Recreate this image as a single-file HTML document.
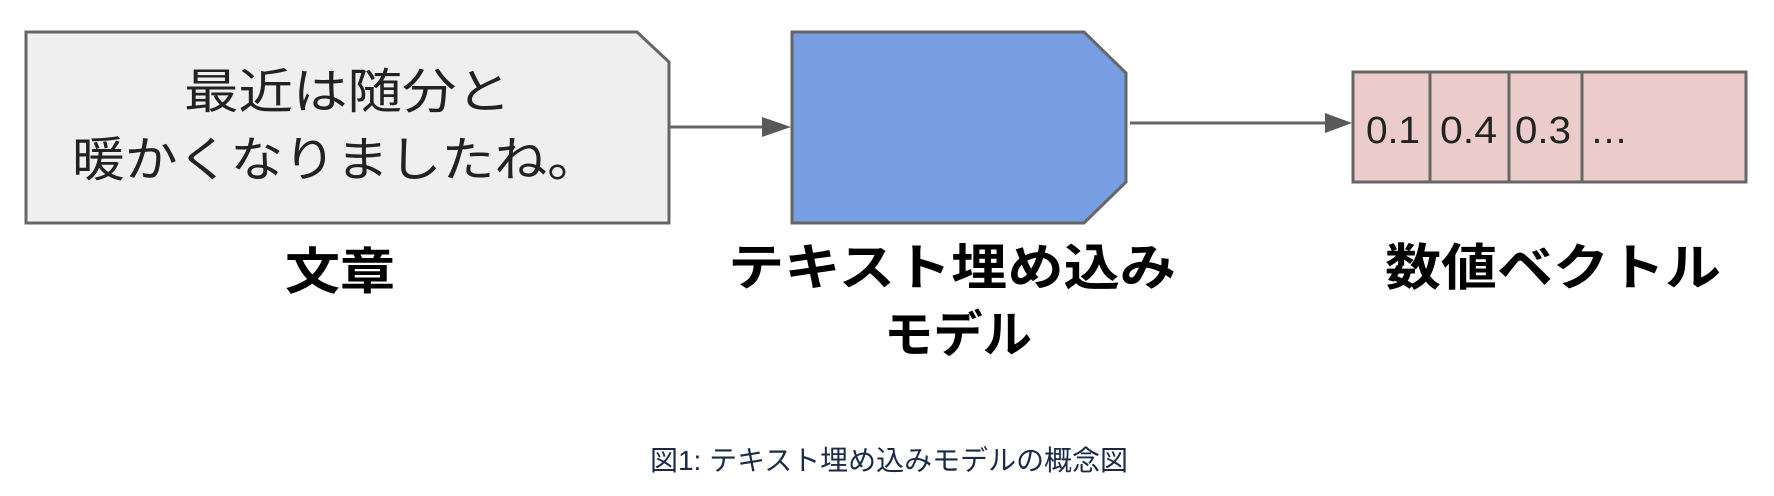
<!DOCTYPE html>
<html><head><meta charset="utf-8"><style>html,body{margin:0;padding:0;background:#fff;}svg{display:block}</style></head>
<body>
<svg width="1774" height="496" viewBox="0 0 1774 496" xmlns="http://www.w3.org/2000/svg" font-family="'Liberation Sans','Noto Sans CJK JP',sans-serif">
<polygon points="26,32 637,32 669,62 669,223 26,223" fill="#efefef" stroke="#666" stroke-width="3"/>
<text x="184" y="108" font-size="48" fill="#222" textLength="327" lengthAdjust="spacingAndGlyphs">最近は随分と</text>
<text x="72" y="176" font-size="48" fill="#222" textLength="528" lengthAdjust="spacingAndGlyphs">暖かくなりましたね。</text>
<line x1="669" y1="127" x2="764" y2="127" stroke="#666" stroke-width="3"/>
<polygon points="762,117 791,127 762,137" fill="#595959"/>
<polygon points="792,32 1084,32 1126,73 1126,182 1084,223 792,223" fill="#779ee3" stroke="#666" stroke-width="3"/>
<line x1="1130" y1="123" x2="1327" y2="123" stroke="#666" stroke-width="3"/>
<polygon points="1325,113 1352,123 1325,133" fill="#595959"/>
<rect x="1353" y="72" width="393" height="110" fill="#eccccb" stroke="#666" stroke-width="3"/>
<line x1="1430" y1="72" x2="1430" y2="182" stroke="#666" stroke-width="3"/>
<line x1="1509" y1="72" x2="1509" y2="182" stroke="#666" stroke-width="3"/>
<line x1="1582" y1="72" x2="1582" y2="182" stroke="#666" stroke-width="3"/>
<g font-size="38" fill="#222">
<text x="1366" y="143" textLength="54" lengthAdjust="spacingAndGlyphs">0.1</text>
<text x="1440" y="143" textLength="57" lengthAdjust="spacingAndGlyphs">0.4</text>
<text x="1515" y="143" textLength="56" lengthAdjust="spacingAndGlyphs">0.3</text>
<text x="1590" y="143">…</text>
</g>
<g font-size="50" font-weight="bold" fill="#000">
<text x="285" y="289" textLength="110" lengthAdjust="spacingAndGlyphs">文章</text>
<text x="728" y="285" textLength="448" lengthAdjust="spacingAndGlyphs">テキスト埋め込み</text>
<text x="884" y="352" textLength="148" lengthAdjust="spacingAndGlyphs">モデル</text>
<text x="1385" y="285" textLength="336" lengthAdjust="spacingAndGlyphs">数値ベクトル</text>
</g>
<text x="650" y="470" font-size="28" fill="#1a2a48" textLength="478" lengthAdjust="spacingAndGlyphs">図1: テキスト埋め込みモデルの概念図</text>
</svg>
</body></html>
